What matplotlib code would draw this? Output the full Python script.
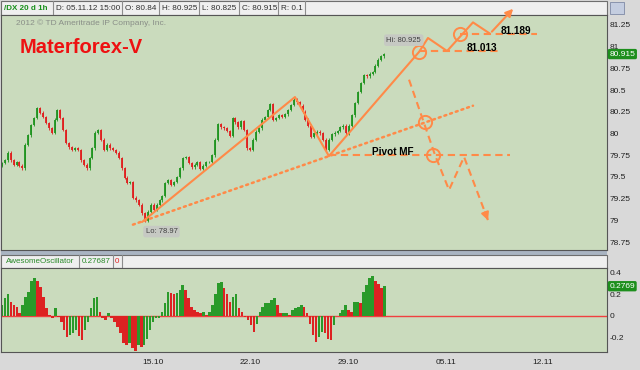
import matplotlib
matplotlib.use('Agg')
import matplotlib.pyplot as plt
from matplotlib.patches import Rectangle
import numpy as np

plt.rcParams['font.family'] = ['Liberation Sans', 'DejaVu Sans']

# hourly closes of /DX, read every ~3 px off the chart (01.10 -> 05.11.12)
close = [
    79.66, 79.69, 79.78, 79.69, 79.64, 79.67, 79.63, 79.60, 79.87, 79.98,
    80.10, 80.18, 80.29, 80.24, 80.19, 80.12, 80.06, 80.01, 80.16, 80.27,
    80.18, 80.04, 79.89, 79.84, 79.81, 79.83, 79.81, 79.69, 79.64, 79.60,
    79.72, 79.83, 80.01, 80.04, 79.93, 79.81, 79.87, 79.83, 79.81, 79.78,
    79.72, 79.60, 79.49, 79.43, 79.44, 79.26, 79.23, 79.18, 79.08, 78.99,
    79.10, 79.18, 79.12, 79.18, 79.23, 79.28, 79.43, 79.46, 79.41, 79.44,
    79.50, 79.60, 79.72, 79.73, 79.66, 79.61, 79.64, 79.67, 79.59, 79.63,
    79.67, 79.67, 79.75, 79.93, 80.11, 80.07, 80.06, 80.03, 79.97, 80.18,
    80.13, 80.07, 80.14, 80.04, 79.83, 79.81, 79.93, 80.02, 80.06, 80.16,
    80.19, 80.27, 80.34, 80.16, 80.18, 80.21, 80.19, 80.22, 80.27, 80.33,
    80.39, 80.36, 80.32, 80.25, 80.16, 80.09, 79.96, 80.00, 80.02, 80.00,
    79.93, 79.81, 79.93, 79.99, 80.01, 80.03, 80.07, 80.09, 80.00, 80.09,
    80.21, 80.35, 80.48, 80.58, 80.67, 80.66, 80.69, 80.71, 80.78, 80.85,
    80.89, 80.915]

# awesome oscillator, same spacing
ao = [
    0.10, 0.17, 0.20, 0.13, 0.10, 0.08, 0.03, 0.10, 0.18, 0.22,
    0.33, 0.35, 0.33, 0.27, 0.18, 0.07, 0.01, -0.02, 0.07, -0.01,
    -0.06, -0.13, -0.20, -0.18, -0.16, -0.13, -0.19, -0.22, -0.13, -0.06,
    0.07, 0.17, 0.18, 0.04, -0.02, -0.04, 0.03, -0.02, -0.06, -0.10,
    -0.16, -0.25, -0.27, -0.25, -0.30, -0.33, -0.27, -0.29, -0.27, -0.21,
    -0.13, -0.06, -0.02, -0.02, 0.04, 0.12, 0.22, 0.21, 0.20, 0.21,
    0.24, 0.29, 0.24, 0.17, 0.08, 0.06, 0.04, 0.03, 0.04, 0.01,
    0.04, 0.10, 0.20, 0.31, 0.32, 0.26, 0.20, 0.13, 0.18, 0.20,
    0.07, 0.04, -0.01, -0.04, -0.08, -0.15, -0.07, 0.04, 0.08, 0.12,
    0.12, 0.15, 0.17, 0.10, 0.03, 0.03, 0.03, 0.01, 0.06, 0.07,
    0.08, 0.10, 0.08, 0.03, -0.07, -0.18, -0.24, -0.20, -0.15, -0.16,
    -0.21, -0.22, -0.08, 0.00, 0.03, 0.06, 0.10, 0.06, 0.04, 0.13,
    0.13, 0.12, 0.22, 0.29, 0.35, 0.37, 0.33, 0.30, 0.26, 0.277]

# day 0 = 01.10.2012
first_day = 3.16
last_day = 30.6
date_ticks = [14, 21, 28, 35, 42]
date_labels = ['15.10', '22.10', '29.10', '05.11', '12.11']
price_ticks = [78.75, 79, 79.25, 79.5, 79.75, 80, 80.25, 80.5, 80.75, 81, 81.25]
ao_ticks = [-0.2, 0, 0.2, 0.4]

# scenario sketch (day, price)
bull_day = [13.21, 24.19, 26.63, 33.10, 33.74, 35.11, 36.97, 38.19, 39.99]
bull_px = [78.98, 80.42, 79.74, 80.94, 81.10, 80.95, 81.28, 81.15, 81.46]
trend_day = [12.56, 36.97]
trend_px = [78.95, 80.32]
bear_day = [32.38, 34.25, 35.25, 36.33, 38.12]
bear_px = [80.62, 79.75, 79.35, 79.73, 78.97]
circle_day = [33.10, 36.04, 33.53, 34.10]
circle_px = [80.94, 81.15, 80.13, 79.75]
lvl1 = (80.95, 33.10, 39.05, '81.013')
lvl2 = (81.15, 36.04, 41.57, '81.189')
pivot = (79.75, 26.63, 39.63, 'Pivot MF')

green = '#1f931f'
red = '#e01e1e'
orange = '#ff8a48'
bg = '#cadbbd'

W, H = 640, 370
fig = plt.figure(figsize=(6.4, 3.7), dpi=100, facecolor='#d9d9d9')

def frac(x0, y0, x1, y1):
    return [x0 / W, 1 - y1 / H, (x1 - x0) / W, (y1 - y0) / H]

# back overlay in pixels: header bars
back = fig.add_axes([0, 0, 1, 1], zorder=-1)
back.set_xlim(0, W); back.set_ylim(H, 0); back.axis('off')
back.add_patch(Rectangle((1, 1), 606, 13.5, fc='#efefef', ec='#6e6e6e', lw=0.8))
for sx in [53, 122, 159, 199, 239, 278, 305]:
    back.plot([sx, sx], [1, 14.5], color='#8c8c8c', lw=0.8)
back.add_patch(Rectangle((610, 2), 14, 12, fc='#c4cde0', ec='#7f8aa6', lw=0.6))
back.add_patch(Rectangle((1, 250.5), 606, 4, fc='#a9b4c2', ec='none'))
back.add_patch(Rectangle((1, 255), 606, 12.5, fc='#efefef', ec='#6e6e6e', lw=0.8))
for sx in [79, 113, 122]:
    back.plot([sx, sx], [255, 267.5], color='#8c8c8c', lw=0.8)

hdr = [(4, '/DX 20 d 1h'), (56, 'D: 05.11.12 15:00'), (125, 'O: 80.84'),
       (162, 'H: 80.925'), (202, 'L: 80.825'), (242, 'C: 80.915'), (281, 'R: 0.1')]
for i, (hx, t) in enumerate(hdr):
    if i == 0:
        back.text(hx, 8, t, fontsize=5.8, color='#17901a', fontweight='bold', va='center')
    else:
        back.text(hx, 8, t, fontsize=5.9, color='#303030', va='center')
back.text(6, 261.5, 'AwesomeOscillator', fontsize=5.8, color='#2a8a2a', va='center')
back.text(82, 261.5, '0.27687', fontsize=5.8, color='#2a8a2a', va='center')
back.text(115, 261.5, '0', fontsize=5.8, color='#e02020', va='center')

# price panel
ax = fig.add_axes(frac(1, 15, 607, 250), facecolor=bg)
cx = np.linspace(first_day, last_day, len(close))
cl = np.array(close)
op = np.r_[cl[0] - 0.03, cl[:-1]]
col = np.where(cl >= op, green, red)
wick = 0.015
ax.vlines(cx, np.minimum(op, cl) - wick, np.maximum(op, cl) + wick, colors=col, lw=0.6)
ax.vlines(cx, op, cl, colors=col, lw=1.3)

ax.plot(bull_day[:-1], bull_px[:-1], color=orange, lw=1.5, solid_capstyle='round')
a = ax.annotate('', xy=(bull_day[-1], bull_px[-1]), xytext=(bull_day[-2], bull_px[-2]),
                arrowprops=dict(arrowstyle='-|>', color=orange, lw=1.5, mutation_scale=11),
                annotation_clip=False)
a.arrow_patch.set_clip_on(False)
ax.plot(trend_day, trend_px, color=orange, lw=1.8, ls=(0, (0.8, 1.6)), dash_capstyle='round')
ax.plot(bear_day, bear_px, color=orange, lw=1.5, dashes=(3.5, 2.2))
tip = np.array([bear_day[-1], bear_px[-1]])
prev = np.array([bear_day[-2], bear_px[-2]])
ax.annotate('', xy=tuple(tip), xytext=tuple(tip - 0.2 * (tip - prev)),
            arrowprops=dict(arrowstyle='-|>', color=orange, lw=1.5, mutation_scale=11))
for lv, x0, x1, lab in [lvl1, lvl2, pivot]:
    ax.plot([x0, x1], [lv, lv], color=orange, lw=1.5, dashes=(3.5, 2.2))
ax.plot(circle_day, circle_px, 'o', ms=9.5, mfc='none', mec=orange, mew=1.4)

ax.text(36.54, 80.985, lvl1[3], fontsize=7.2, fontweight='bold', va='center')
ax.text(38.98, 81.18, lvl2[3], fontsize=7.2, fontweight='bold', va='center')
ax.text(29.72, 79.79, pivot[3], fontsize=7.2, fontweight='bold', va='center')
ax.text(max(cx) + 1.4, max(cl) + 0.16, 'Hi: 80.925', fontsize=5.5, color='#404040', ha='center', va='center',
        bbox=dict(boxstyle='round,pad=0.3', fc='#c6c9c3', ec='none'))
ax.text(14.61, 78.87, 'Lo: 78.97', fontsize=5.5, color='#404040', ha='center', va='center',
        bbox=dict(boxstyle='round,pad=0.3', fc='#c6c9c3', ec='none'))

ax.set_xlim(3.09, 46.59)
ax.set_ylim(78.658, 81.365)
ax.set_yticks(price_ticks)
ax.set_yticklabels(['{:g}'.format(t) for t in price_ticks])
ax.yaxis.tick_right()
ax.tick_params(axis='y', length=0, pad=2, labelsize=6, labelcolor='#202020')
ax.set_xticks([])
for s in ax.spines.values():
    s.set_color('#555555'); s.set_linewidth(0.8)
ax.text(1.004, cl[-1], '80.915', transform=ax.get_yaxis_transform(), fontsize=6, color='white',
        va='center', ha='left', bbox=dict(boxstyle='round,pad=0.2', fc='#1d8f1d', ec='none'))

# oscillator panel
ax2 = fig.add_axes(frac(1, 268, 607, 352), facecolor=bg)
ax2.axhline(0, color='#f04040', lw=1, zorder=1)
ox = np.linspace(first_day, last_day, len(ao))
av = np.array(ao)
ocol = np.where(np.r_[True, av[1:] >= av[:-1]], '#2a9a2a', '#dd2222')
ax2.bar(ox, av, width=(ox[1] - ox[0]) * 0.85, color=ocol, lw=0, zorder=2)
ax2.set_xlim(3.09, 46.59)
ax2.set_ylim(-0.335, 0.4465)
ax2.set_yticks(ao_ticks)
ax2.set_yticklabels(['{:g}'.format(t) for t in ao_ticks])
ax2.yaxis.tick_right()
ax2.tick_params(axis='y', length=0, pad=2, labelsize=6, labelcolor='#202020')
ax2.set_xticks(date_ticks)
ax2.set_xticklabels(date_labels)
ax2.tick_params(axis='x', length=0, pad=5, labelsize=6, labelcolor='#202020')
for s in ax2.spines.values():
    s.set_color('#555555'); s.set_linewidth(0.8)
ax2.text(1.004, av[-1], '0.2769', transform=ax2.get_yaxis_transform(), fontsize=6, color='white',
         va='center', ha='left', bbox=dict(boxstyle='round,pad=0.2', fc='#1d8f1d', ec='none'))

# front overlay: captions on the price panel
front = fig.add_axes([0, 0, 1, 1], zorder=10)
front.set_xlim(0, W); front.set_ylim(H, 0); front.axis('off')
front.text(16, 23, '2012 \u00a9 TD Ameritrade IP Company, Inc.', fontsize=6, color='#8a8f88', va='center')
front.text(20, 47.5, 'Materforex-V', fontsize=14.5, color='#ee1111', fontweight='bold', va='center')

fig.savefig('out.png', dpi=100, facecolor=fig.get_facecolor())
